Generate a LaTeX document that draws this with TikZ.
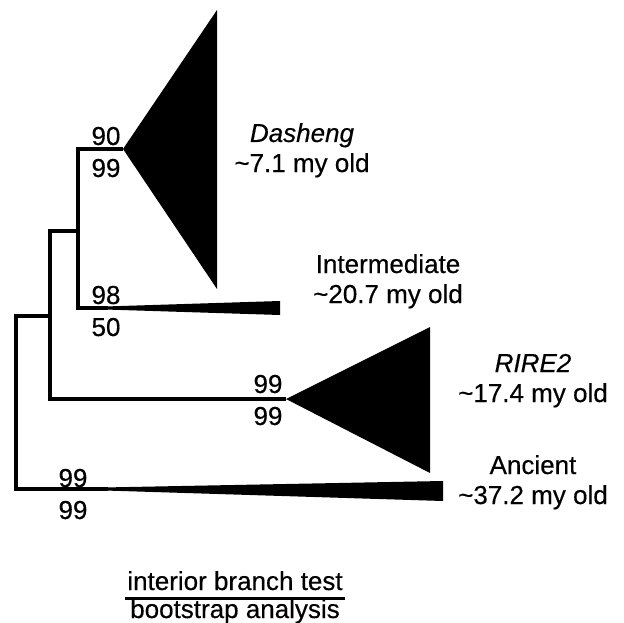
\documentclass[tikz,border=0pt]{standalone}
\usepackage{fontspec}
\setmainfont[FakeBold=0.4]{Liberation Sans}
\usetikzlibrary{positioning}

\begin{document}
\begin{tikzpicture}[x=1pt,y=-1pt,
	branch/.style={line width=3.2pt},
	clade/.style={fill=black},
	txt/.style={anchor=base,inner sep=0pt,font=\fontsize{26}{30}\selectfont}]

	\useasboundingbox (0,0) rectangle (624,623);

	% tree nodes
	\coordinate (n0) at (16,316);
	\coordinate (n1) at (50,231);
	\coordinate (n2) at (78,231);
	\coordinate (dash) at (123,149);
	\coordinate (inter) at (108,308);
	\coordinate (rire) at (286,399);
	\coordinate (anc) at (108,489);

	% collapsed clades
	\fill[clade] (dash) -- (217,10) -- (217,289) -- cycle;
	\fill[clade] ([yshift=1.6pt]inter) -- (280,301) -- (280,315) -- ([yshift=-1.6pt]inter) -- cycle;
	\fill[clade] (rire) -- (430,327) -- (430,473) -- cycle;
	\fill[clade] ([yshift=1.6pt]anc) -- (443,481) -- (443,501) -- ([yshift=-1.6pt]anc) -- cycle;

	% branches
	\draw[branch] (anc) -| (n0) -- (n0 -| n1);
	\draw[branch] (rire) -| (n1) -- (n2);
	\draw[branch] (inter) -| (dash -| n2) -- (dash);

	% support values
	\foreach \x/\y/\a/\b in {106/145/90/99, 106/304/98/50, 268/393/99/99, 73/487/99/99} {
		\node[txt] (up-\x-\y) at (\x,\y) {\a};
		\node[txt] (lo-\x-\y) at (\x,\y+32) {\b};
	}

	% clade names
	\foreach \x/\y/\n/\t in {302/142/\textit{Dasheng}/7.1, 388/273/Intermediate/20.7,
		533/372/\textit{RIRE2}/17.4, 533/474/Ancient/37.2} {
		\node[txt] (name-\t) at (\x,\y) {\n};
		\node[txt] (age-\t) at (\x,\y+30) {\textasciitilde\t\ my old};
	}

	% legend
	\node[txt] (ibt) at (235,590) {interior branch test};
	\node[txt] (bsa) at (235,618) {bootstrap analysis};
	\coordinate (rl) at (125,598);
	\coordinate (rr) at (345,598);
	\draw[line width=3pt] (rl) -- (rr);

\end{tikzpicture}
\end{document}
